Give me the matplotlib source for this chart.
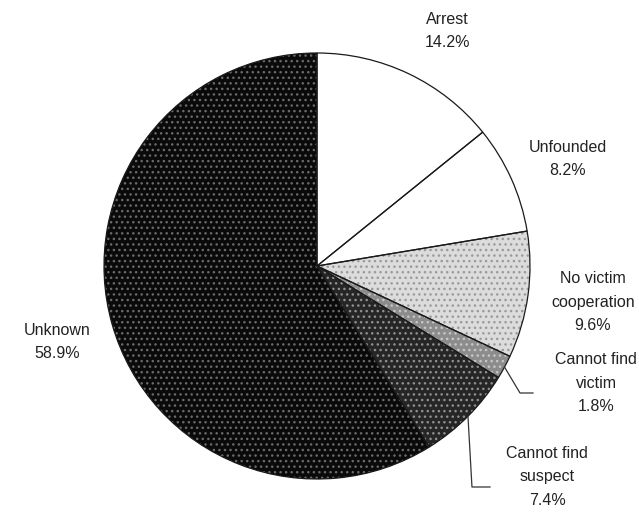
import matplotlib.pyplot as plt
import numpy as np

# case outcomes, clockwise from the top
categorias = ["Arrest", "Unfounded", "No victim\ncooperation", "Cannot find\nvictim",
              "Cannot find\nsuspect", "Unknown"]
porcentajes = [14.2, 8.2, 9.6, 1.8, 7.4, 58.9]

# relleno de cada porcion y color del punteado
rellenos = ["#ffffff", "#ffffff", "#dcdcdc", "#8c8c8c", "#262626", "#0a0a0a"]
punteado = ["#ffffff", "#ffffff", "#9a9a9a", "#c8c8c8", "#909090", "#6a6a6a"]
tramas = [None, None, "...", "...", "...", "..."]

plt.rcParams["font.family"] = ["Liberation Sans", "DejaVu Sans"]
plt.rcParams["hatch.linewidth"] = 1.0

fig = plt.figure(figsize=(6.39, 5.20), dpi=100)
ax = fig.add_axes([0, 0, 1, 1])

centro = (317, 254)
radio = 213

# primero las porciones con su trama
porciones, _ = ax.pie(porcentajes, startangle=90, counterclock=False,
                      center=centro, radius=radio, colors=rellenos,
                      wedgeprops=dict(linewidth=0), frame=True)
for w, c, t in zip(porciones, punteado, tramas):
    w.set_edgecolor(c)
    if t:
        w.set_hatch(t)

# despues los bordes encima
bordes, _ = ax.pie(porcentajes, startangle=90, counterclock=False,
                   center=centro, radius=radio,
                   wedgeprops=dict(fill=False, edgecolor="#1a1a1a", linewidth=0.9),
                   frame=True)
ax.set_xlim(0, 639)
ax.set_ylim(0, 520)
ax.set_aspect("equal")
ax.axis("off")

# posiciones de los textos
pos_textos = [(447, 489), (568, 361), (593, 218), (596, 137), (547, 43), (57, 178)]
for nombre, p, (x, y) in zip(categorias, porcentajes, pos_textos):
    ax.text(x, y, f"{nombre}\n{p}%", ha="center", va="center", fontsize=11.5,
            color="#222222", linespacing=1.7)

# lineas guia de las porciones chicas
def borde_medio(w, frac=0.5):
    ang = np.deg2rad(w.theta1 + (w.theta2 - w.theta1) * frac)
    return centro[0] + radio * np.cos(ang), centro[1] + radio * np.sin(ang)

x0, y0 = borde_medio(bordes[3])
ax.plot([x0, 520, 533], [y0, 127, 127], color="#333333", lw=0.9)
x0, y0 = borde_medio(bordes[4], 0.5)
ax.plot([x0, x0 + 4, 490], [y0, 33, 33], color="#333333", lw=0.9)

fig.savefig("out.png", dpi=100)
